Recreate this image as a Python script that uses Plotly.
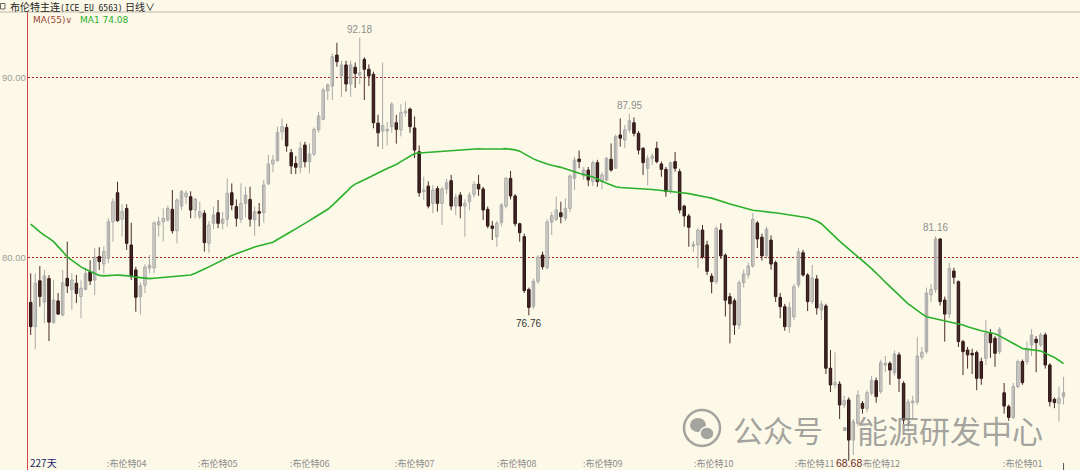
import plotly.graph_objects as go

# ---------------- data ----------------
opens = [77.48, 76.13, 78.68, 77.50, 78.80, 76.35, 77.56, 76.78, 78.82, 78.20,
         78.54, 77.80, 78.20, 79.18, 78.72, 80.02, 79.61, 79.93, 81.96, 83.57,
         82.10, 82.70, 80.67, 79.28, 77.80, 78.44, 79.39, 79.39, 81.78, 81.96,
         82.06, 82.65, 81.46, 82.83, 83.35, 83.35, 82.61, 82.24, 82.43, 80.76,
         81.87, 82.46, 81.87, 82.10, 83.57, 82.80, 82.10, 82.98, 83.20, 82.06,
         82.52, 82.46, 84.06, 85.17, 85.35, 86.96, 87.19, 85.80, 85.20, 84.98,
         86.22, 85.29, 85.72, 87.06, 87.65, 89.24, 89.50, 91.22, 90.06, 90.67,
         89.61, 90.54, 90.11, 90.98, 90.43, 90.15, 87.44, 87.00, 87.00, 87.24,
         87.46, 87.06, 88.00, 88.22, 87.17, 85.85, 83.63, 83.94, 82.98, 83.80,
         82.98, 83.78, 84.24, 82.83, 83.44, 82.83, 83.07, 83.48, 84.04, 83.78,
         82.65, 81.72, 81.13, 81.91, 82.83, 84.37, 83.39, 81.85, 81.13, 78.20,
         77.26, 78.65, 80.11, 79.41, 81.94, 82.09, 82.46, 82.15, 82.70, 84.37,
         85.44, 84.50, 84.83, 84.19, 85.24, 84.19, 84.28, 85.43, 84.93, 86.78,
         86.50, 87.06, 87.46, 86.87, 86.04, 84.93, 85.48, 86.04, 85.17, 84.87,
         83.69, 85.30, 84.74, 82.83, 82.28, 80.60, 80.67, 81.50, 80.67, 78.94,
         78.63, 81.50, 80.10, 77.80, 77.57, 76.22, 78.57, 79.00, 79.50, 81.89,
         81.10, 80.06, 80.94, 79.69, 77.76, 77.24, 76.13, 76.67, 78.44, 80.24,
         79.00, 77.52, 78.78, 77.06, 77.28, 73.82, 72.90, 72.94, 71.78, 72.06,
         69.83, 70.76, 71.87, 71.59, 72.43, 73.13, 72.52, 74.00, 74.09, 73.57,
         74.56, 72.98, 70.94, 71.90, 71.94, 74.44, 74.74, 77.90, 78.20, 81.00,
         77.61, 76.83, 79.22, 78.63, 75.30, 74.83, 74.65, 74.69, 74.19, 74.37,
         75.76, 75.48, 74.74, 72.46, 71.69, 71.09, 72.80, 74.19, 74.19, 75.11,
         75.43, 75.11, 75.67, 74.00, 72.09, 71.87, 72.24]
highs = [79.09, 79.09, 79.50, 79.28, 79.00, 78.72, 78.00, 79.28, 80.85, 79.10,
         79.00, 78.70, 79.40, 79.83, 80.50, 80.54, 80.60, 82.15, 83.26, 84.18,
         82.93, 82.93, 81.90, 79.45, 78.60, 79.60, 80.10, 81.96, 82.24, 82.70,
         82.85, 83.72, 83.26, 83.72, 83.70, 83.65, 83.26, 83.07, 82.60, 82.00,
         82.80, 83.17, 82.50, 84.37, 84.09, 83.20, 84.09, 83.90, 83.90, 82.80,
         83.00, 84.28, 85.67, 85.67, 87.24, 87.70, 87.40, 86.00, 85.60, 86.40,
         86.40, 86.30, 87.20, 88.07, 89.40, 89.65, 91.31, 91.90, 90.90, 90.90,
         90.90, 90.80, 92.18, 91.10, 90.70, 90.30, 87.90, 90.80, 87.50, 88.60,
         87.90, 88.50, 88.63, 88.30, 87.81, 86.20, 84.46, 84.20, 84.00, 83.94,
         83.90, 84.35, 84.56, 83.50, 83.60, 83.20, 83.60, 84.20, 84.56, 83.90,
         82.80, 82.00, 82.00, 83.00, 84.45, 84.78, 83.50, 81.90, 81.30, 78.30,
         78.80, 80.10, 80.30, 82.10, 82.50, 83.35, 83.07, 83.26, 84.60, 85.57,
         85.91, 85.00, 85.00, 85.35, 85.40, 84.70, 85.57, 86.31, 86.80, 87.70,
         87.33, 87.95, 87.75, 87.00, 86.10, 85.66, 85.75, 86.41, 85.30, 85.00,
         85.30, 85.83, 84.90, 82.90, 82.40, 80.90, 81.60, 81.78, 80.90, 79.10,
         81.70, 81.87, 80.20, 78.00, 77.70, 78.70, 79.30, 79.70, 82.44, 82.00,
         81.30, 81.70, 81.20, 79.80, 78.00, 77.40, 77.50, 78.50, 80.50, 80.40,
         79.10, 79.56, 79.00, 77.60, 77.40, 74.83, 74.70, 73.10, 72.30, 72.20,
         71.00, 72.60, 72.00, 72.60, 73.40, 73.30, 74.30, 74.50, 74.20, 74.80,
         74.70, 73.10, 72.10, 72.30, 75.57, 75.00, 78.30, 78.50, 81.16, 81.05,
         77.80, 79.70, 79.40, 78.70, 75.40, 75.00, 74.90, 74.80, 74.40, 76.50,
         76.00, 75.60, 76.10, 73.00, 71.80, 73.00, 74.30, 74.30, 75.30, 76.00,
         75.60, 75.80, 75.80, 74.10, 72.20, 72.80, 73.35]
lows = [75.67, 74.87, 77.24, 76.32, 75.33, 76.30, 76.78, 76.70, 78.00, 77.06,
        77.44, 76.60, 78.15, 78.44, 77.89, 79.28, 79.07, 79.65, 80.85, 81.96,
        81.13, 80.39, 78.72, 76.96, 76.80, 78.00, 79.10, 79.10, 81.13, 80.85,
        81.96, 81.30, 80.76, 82.60, 82.94, 82.15, 82.15, 82.10, 80.30, 80.24,
        81.54, 81.60, 81.54, 81.70, 82.60, 81.69, 81.90, 82.20, 81.69, 81.17,
        81.70, 81.90, 84.00, 84.70, 85.30, 86.50, 85.85, 84.61, 84.61, 84.65,
        84.98, 84.65, 85.60, 86.90, 87.60, 88.72, 88.72, 90.57, 88.90, 89.19,
        88.90, 89.40, 89.60, 88.72, 89.50, 87.15, 86.13, 86.00, 86.20, 86.90,
        86.30, 86.70, 87.80, 86.90, 85.50, 83.35, 83.17, 82.70, 82.43, 82.52,
        81.78, 83.50, 82.60, 82.33, 82.15, 81.13, 82.60, 83.30, 83.40, 82.06,
        81.60, 80.94, 80.57, 81.70, 82.70, 83.20, 81.70, 80.85, 78.00, 76.76,
        77.10, 78.50, 79.30, 79.30, 81.22, 82.00, 81.87, 82.00, 82.50, 83.72,
        84.93, 84.28, 83.94, 83.94, 83.90, 83.76, 84.20, 84.74, 84.90, 86.13,
        86.04, 86.90, 86.70, 85.70, 84.56, 83.98, 85.10, 85.20, 84.46, 83.35,
        83.50, 84.74, 82.43, 81.69, 80.57, 80.30, 79.37, 79.90, 79.00, 77.98,
        78.50, 79.90, 76.70, 75.20, 75.67, 76.00, 78.30, 78.80, 79.40, 80.50,
        79.80, 79.90, 79.30, 77.50, 76.60, 75.90, 75.78, 76.50, 78.30, 78.90,
        77.00, 77.40, 76.80, 76.50, 73.50, 72.50, 72.70, 71.00, 71.60, 68.68,
        69.00, 70.60, 71.30, 71.40, 72.30, 71.90, 72.40, 73.60, 72.90, 73.40,
        72.50, 70.70, 70.30, 71.00, 71.80, 74.30, 74.60, 77.50, 78.00, 77.30,
        75.30, 76.60, 78.50, 75.00, 73.44, 73.80, 73.50, 72.60, 72.90, 74.00,
        74.40, 73.90, 74.60, 71.30, 70.90, 71.00, 72.70, 72.90, 74.00, 74.50,
        73.60, 75.00, 73.80, 71.69, 71.60, 70.85, 71.80]
closes = [76.13, 78.54, 77.80, 78.95, 76.38, 77.61, 76.83, 78.57, 78.39, 78.72,
          77.98, 78.26, 79.09, 78.67, 79.98, 79.74, 80.30, 81.96, 83.07, 82.02,
          82.52, 80.76, 78.91, 77.76, 78.40, 79.44, 79.55, 81.90, 81.96, 82.15,
          82.70, 81.46, 83.17, 83.63, 83.55, 82.61, 83.22, 82.52, 80.80, 81.78,
          82.33, 81.87, 82.10, 83.54, 82.89, 82.15, 82.98, 83.44, 82.10, 82.52,
          82.43, 84.00, 85.17, 85.39, 86.93, 87.24, 86.17, 85.06, 84.98, 86.04,
          85.29, 85.72, 87.09, 87.83, 89.28, 89.56, 91.13, 90.85, 90.67, 89.61,
          90.67, 90.20, 90.24, 90.43, 90.06, 87.46, 86.90, 87.30, 87.10, 88.50,
          87.09, 88.02, 88.10, 87.24, 85.94, 83.57, 83.72, 82.83, 83.72, 82.98,
          83.78, 84.13, 82.83, 83.31, 82.83, 82.98, 83.44, 84.04, 83.78, 82.61,
          81.72, 81.59, 81.87, 82.89, 84.37, 83.39, 81.85, 81.35, 78.13, 77.20,
          78.65, 80.00, 79.46, 81.94, 82.30, 82.61, 82.24, 82.70, 84.50, 85.39,
          85.30, 84.83, 84.28, 85.24, 84.19, 84.56, 85.48, 84.83, 86.69, 86.60,
          87.06, 87.57, 86.87, 85.94, 85.24, 85.48, 85.61, 85.30, 84.87, 83.63,
          85.24, 84.93, 82.61, 82.28, 81.65, 80.70, 81.50, 80.00, 79.20, 78.63,
          81.59, 80.06, 77.60, 77.40, 76.22, 78.57, 79.06, 79.50, 82.09, 81.00,
          80.06, 81.55, 79.61, 77.80, 77.24, 76.13, 77.20, 78.35, 80.30, 79.00,
          77.52, 78.83, 77.17, 77.39, 73.82, 72.89, 73.02, 71.78, 72.02, 69.83,
          70.85, 72.33, 71.59, 72.46, 73.13, 72.24, 74.13, 74.09, 73.72, 74.61,
          73.26, 70.94, 71.94, 72.00, 74.50, 74.70, 78.00, 78.20, 81.00, 77.52,
          76.83, 79.37, 78.87, 75.30, 74.74, 74.56, 74.56, 73.26, 73.26, 75.76,
          75.24, 74.65, 75.98, 71.72, 71.09, 72.80, 74.19, 73.02, 74.87, 75.67,
          75.24, 75.67, 74.00, 71.96, 71.91, 72.15, 72.46]
ma55 = [81.83, 81.60, 81.40, 81.20, 81.05, 80.85, 80.60, 80.30, 80.00, 79.80,
        79.60, 79.45, 79.32, 79.22, 79.10, 78.98, 78.95, 78.97, 79.00, 79.00,
        78.98, 78.97, 78.93, 78.88, 78.84, 78.80, 78.80, 78.82, 78.84, 78.86,
        78.87, 78.89, 78.90, 78.92, 78.94, 79.00, 79.10, 79.20, 79.33, 79.45,
        79.58, 79.72, 79.86, 79.98, 80.08, 80.18, 80.28, 80.38, 80.48, 80.55,
        80.62, 80.68, 80.74, 80.82, 80.97, 81.13, 81.30, 81.42, 81.56, 81.70,
        81.86, 82.02, 82.18, 82.34, 82.50, 82.65, 82.87, 83.10, 83.33, 83.60,
        83.87, 84.05, 84.17, 84.30, 84.42, 84.55, 84.68, 84.80, 84.92, 85.03,
        85.14, 85.30, 85.45, 85.60, 85.75, 85.78, 85.80, 85.82, 85.84, 85.86,
        85.87, 85.89, 85.90, 85.92, 85.94, 85.96, 85.99, 86.01, 86.01, 86.00,
        85.99, 85.98, 85.99, 86.00, 86.02, 86.00, 85.95, 85.88, 85.73, 85.56,
        85.45, 85.35, 85.25, 85.17, 85.10, 85.05, 84.98, 84.90, 84.80, 84.73,
        84.65, 84.58, 84.52, 84.45, 84.33, 84.20, 84.10, 84.00, 83.90, 83.86,
        83.85, 83.84, 83.83, 83.82, 83.80, 83.77, 83.75, 83.72, 83.70, 83.68,
        83.66, 83.64, 83.60, 83.56, 83.52, 83.48, 83.44, 83.38, 83.32, 83.27,
        83.20, 83.10, 83.02, 82.95, 82.87, 82.80, 82.72, 82.65, 82.60, 82.57,
        82.53, 82.50, 82.48, 82.46, 82.42, 82.39, 82.36, 82.32, 82.29, 82.26,
        82.18, 82.10, 82.00, 81.85, 81.60, 81.35, 81.10, 80.88, 80.66, 80.45,
        80.24, 80.04, 79.82, 79.58, 79.35, 79.12, 78.86, 78.60, 78.36, 78.10,
        77.85, 77.60, 77.40, 77.22, 77.02, 76.84, 76.68, 76.62, 76.57, 76.50,
        76.45, 76.40, 76.35, 76.30, 76.22, 76.13, 76.04, 75.95, 75.90, 75.85,
        75.80, 75.74, 75.62, 75.48, 75.33, 75.18, 75.02, 74.92, 74.88, 74.85,
        74.82, 74.78, 74.66, 74.55, 74.42, 74.25, 74.08]

month_labels = [":布伦特04", ":布伦特05", ":布伦特06", ":布伦特07", ":布伦特08",
                ":布伦特09", ":布伦特10", ":布伦特11", "布伦特12", ":布伦特01"]
month_pos = [16.3, 36.2, 56.3, 79.2, 101.5, 120.5, 144.6, 166.7, 181.6, 212.4]
y_ticks = [80, 90]
y_tick_text = ["80.00", "90.00"]
bar_count_label = "227天"
ma_name = "MA(55)"
ma_value_label = "MA1 74.08"

# ---------------- layout geometry ----------------
W, H = 1080, 470
ML, MT = 28, 12
PW, PH = W - ML, H - MT
XR = [-0.59, 229.6]
YR = [68.167, 93.611]
BG = "#FCF9E8"


def px_x(px):
    return XR[0] + (px - ML) / PW * (XR[1] - XR[0])


def py_y(py):
    return YR[1] - (py - MT) / PH * (YR[1] - YR[0])


def pap_x(px):
    return (px - ML) / PW


def pap_y(py):
    return (H - py) / PH


n = len(closes)
idx = list(range(n))
up = [i for i in idx if closes[i] >= opens[i]]
dn = [i for i in idx if closes[i] < opens[i]]


def wick_xy(sel):
    xs, ys = [], []
    for i in sel:
        xs += [i, i, None]
        ys += [lows[i], highs[i], None]
    return xs, ys


fig = go.Figure()
wx, wy = wick_xy(up)
fig.add_trace(go.Scatter(x=wx, y=wy, mode="lines", line=dict(color="#A9A9A9", width=1),
                         hoverinfo="skip", showlegend=False))
wx, wy = wick_xy(dn)
fig.add_trace(go.Scatter(x=wx, y=wy, mode="lines", line=dict(color="#4A2C2C", width=1),
                         hoverinfo="skip", showlegend=False))

MINH = 0.045
fig.add_trace(go.Bar(x=up, base=[opens[i] for i in up],
                     y=[max(closes[i] - opens[i], MINH) for i in up],
                     width=0.54, marker=dict(color=BG, line=dict(color="#A4A4A4", width=1)),
                     hoverinfo="skip", showlegend=False))
fig.add_trace(go.Bar(x=dn, base=[closes[i] for i in dn],
                     y=[max(opens[i] - closes[i], MINH) for i in dn],
                     width=0.54, marker=dict(color="#2A1212", line=dict(color="#2A1212", width=1)),
                     hoverinfo="skip", showlegend=False))

fig.add_trace(go.Scatter(x=idx, y=ma55, mode="lines", line=dict(color="#2BB02B", width=1.6),
                         hoverinfo="skip", showlegend=False))

ann = []


def extreme_label(i, val, text, color, above):
    ann.append(dict(x=i, y=val, xref="x", yref="y", text=text, showarrow=False,
                    yanchor="bottom" if above else "top", yshift=1 if above else -1,
                    font=dict(family="Liberation Sans", size=10, color=color)))


extreme_label(72, highs[72], "92.18", "#8E8E8E", True)
extreme_label(131, highs[131], "87.95", "#8E8E8E", True)
extreme_label(198, highs[198], "81.16", "#8E8E8E", True)
extreme_label(109, lows[109], "76.76", "#333333", False)

# y tick labels
for v, t in zip(y_ticks, y_tick_text):
    ann.append(dict(x=pap_x(27.5), y=v, xref="paper", yref="y", text=t, showarrow=False,
                    xanchor="right", yanchor="middle",
                    font=dict(family="Liberation Sans", size=9.5, color="#9C9C9C")))

# bottom labels
for p, t in zip(month_pos, month_labels):
    ann.append(dict(x=p, y=pap_y(463), xref="x", yref="paper", text=t, showarrow=False,
                    xanchor="left", yanchor="middle",
                    font=dict(family="Noto Sans CJK SC", size=9, color="#8C8C8C")))
ann.append(dict(x=179, y=pap_y(463), xref="x", yref="paper", text="68.68", showarrow=False,
                xanchor="center", yanchor="middle",
                font=dict(family="Liberation Sans", size=10.5, color="#6E2A1C")))
ann.append(dict(x=pap_x(28), y=pap_y(462), xref="paper", yref="paper", text=bar_count_label,
                showarrow=False, xanchor="left", yanchor="middle",
                font=dict(family="Noto Sans CJK SC", size=10, color="#1C1C6A")))

# header
ann.append(dict(x=pap_x(8), y=pap_y(6), xref="paper", yref="paper",
                text='布伦特主连<span style="font-family:DejaVu Sans Mono;font-size:8px">(ICE_EU 6563)</span>',
                showarrow=False, xanchor="left", yanchor="middle",
                font=dict(family="Noto Sans CJK SC", size=10, color="#222222")))
ann.append(dict(x=pap_x(123), y=pap_y(6), xref="paper", yref="paper", text="日线∨",
                showarrow=False, xanchor="left", yanchor="middle",
                font=dict(family="Noto Sans CJK SC", size=10, color="#222222")))
ann.append(dict(x=pap_x(31), y=pap_y(20), xref="paper", yref="paper", text=ma_name + "∨",
                showarrow=False, xanchor="left", yanchor="middle",
                font=dict(family="DejaVu Sans", size=9, color="#A04535")))
ann.append(dict(x=pap_x(78), y=pap_y(20), xref="paper", yref="paper", text=ma_value_label,
                showarrow=False, xanchor="left", yanchor="middle",
                font=dict(family="DejaVu Sans", size=9, color="#2BB02B")))

# watermark
wm_color = "rgba(130,130,130,0.72)"
ann.append(dict(x=px_x(731), y=py_y(429), xref="x", yref="y", text="公众号", showarrow=False,
                xanchor="left", yanchor="middle",
                font=dict(family="Noto Sans CJK SC", size=30, color=wm_color)))
ann.append(dict(x=px_x(845), y=py_y(429), xref="x", yref="y", text="·", showarrow=False,
                xanchor="center", yanchor="middle",
                font=dict(family="DejaVu Sans", size=30, color=wm_color)))
ann.append(dict(x=px_x(855), y=py_y(429), xref="x", yref="y", text="能源研发中心", showarrow=False,
                xanchor="left", yanchor="middle",
                font=dict(family="Noto Sans CJK SC", size=31, color=wm_color)))

shapes = [
    dict(type="line", xref="paper", yref="paper", x0=pap_x(0), x1=1, y0=1, y1=1,
         line=dict(color="#C2B6A6", width=1)),
    dict(type="rect", xref="paper", yref="paper", x0=pap_x(0.5), x1=pap_x(5), y0=pap_y(9), y1=pap_y(3.5),
         line=dict(color="#666666", width=1), fillcolor="rgba(0,0,0,0)"),
    dict(type="circle", xref="x", yref="y", x0=px_x(684), x1=px_x(720), y0=py_y(446), y1=py_y(410),
         line=dict(color=wm_color, width=2.5), fillcolor="rgba(0,0,0,0)"),
    dict(type="circle", xref="x", yref="y", x0=px_x(690), x1=px_x(706), y0=py_y(432), y1=py_y(418),
         line=dict(color=wm_color, width=0), fillcolor=wm_color),
    dict(type="circle", xref="x", yref="y", x0=px_x(700), x1=px_x(714), y0=py_y(440), y1=py_y(427),
         line=dict(color=BG, width=1.5), fillcolor=wm_color),
    dict(type="line", xref="x", yref="paper", x0=n - 1, x1=n - 1, y0=pap_y(470), y1=pap_y(463),
         line=dict(color="#555555", width=1)),
]

fig.update_layout(
    width=W, height=H,
    margin=dict(l=ML, r=0, t=MT, b=0, pad=0),
    paper_bgcolor=BG, plot_bgcolor=BG,
    barmode="overlay",
    showlegend=False,
    xaxis=dict(range=XR, showgrid=False, zeroline=False, showticklabels=False,
               showline=False, ticks="", fixedrange=True),
    yaxis=dict(range=YR, tickvals=y_ticks, showticklabels=False, ticks="",
               showgrid=True, gridcolor="#B22A2A", griddash="2px,2px", gridwidth=1,
               zeroline=False, showline=True, linecolor="#D94444", linewidth=1,
               fixedrange=True),
    annotations=ann,
    shapes=shapes,
)

fig.write_html("out.html", config={"displayModeBar": False},
               post_script="document.body.style.margin='0px';document.body.style.overflow='hidden';")
